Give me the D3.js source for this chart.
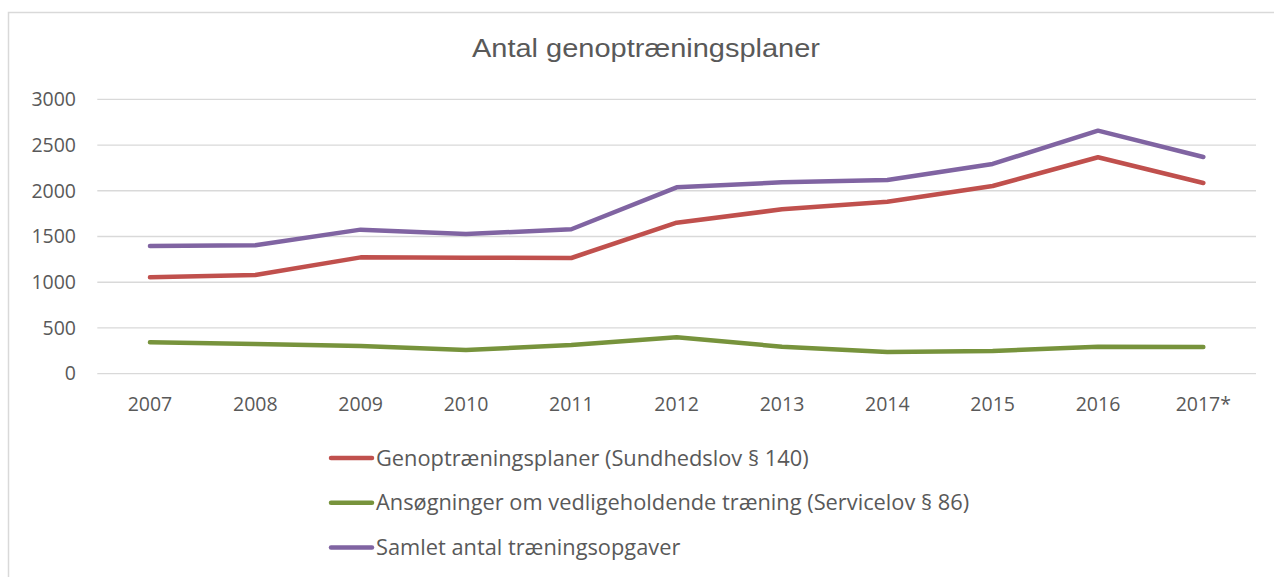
<!DOCTYPE html>
<html>
<head>
<meta charset="utf-8">
<script src="https://cdn.jsdelivr.net/npm/d3@7"></script>
<style>
  body { margin: 0; background: #fff; }
  svg { display: block; }
</style>
</head>
<body>
<script>
var w = 1274;
var h = 577;

var years = ["2007", "2008", "2009", "2010", "2011", "2012", "2013", "2014", "2015", "2016", "2017*"];
var genoptraening = [1054, 1079, 1272, 1268, 1265, 1651, 1797, 1881, 2052, 2366, 2085];
var ansoegninger = [343, 325, 303, 259, 314, 398, 295, 237, 248, 295, 292];
var samlet = [1397, 1404, 1575, 1527, 1579, 2038, 2092, 2118, 2293, 2657, 2369];
var yTicks = [0, 500, 1000, 1500, 2000, 2500, 3000];

var seriesNames = [
  "Genoptræningsplaner (Sundhedslov § 140)",
  "Ansøgninger om vedligeholdende træning (Servicelov § 86)",
  "Samlet antal træningsopgaver"
];
var seriesColors = ["#c0504d", "#77933c", "#8064a2"];
var seriesData = [genoptraening, ansoegninger, samlet];

var textColor = "#595959";
var font = "'Open Sans', sans-serif";

var svg = d3.select("body")
  .append("svg")
  .attr("width", w)
  .attr("height", h);

// chart frame
svg.append("rect")
  .attr("x", 8.5)
  .attr("y", 12.5)
  .attr("width", w + 10)
  .attr("height", h + 10)
  .attr("fill", "#fff")
  .attr("stroke", "#d9d9d9")
  .attr("stroke-width", 1.5);

// title
svg.append("text")
  .attr("x", 646)
  .attr("y", 57)
  .attr("text-anchor", "middle")
  .attr("font-family", "'Liberation Sans', Arial, sans-serif")
  .attr("font-size", 25)
  .attr("textLength", 348)
  .attr("lengthAdjust", "spacingAndGlyphs")
  .attr("fill", textColor)
  .text("Antal genoptræningsplaner");

var xScale = d3.scaleBand()
  .domain(years)
  .range([97.3, 1256]);

var yScale = d3.scaleLinear()
  .domain([0, 3000])
  .range([373.7, 99.3]);

// gridlines
svg.append("g")
  .selectAll("line")
  .data(yTicks)
  .enter()
  .append("line")
  .attr("x1", 97.3)
  .attr("x2", 1256)
  .attr("y1", function(d) { return yScale(d); })
  .attr("y2", function(d) { return yScale(d); })
  .attr("stroke", "#d9d9d9")
  .attr("stroke-width", 1.3);

// y axis labels
var yAxis = d3.axisLeft(yScale)
  .tickValues(yTicks)
  .tickFormat(d3.format("d"))
  .tickSize(0)
  .tickPadding(0);

var yG = svg.append("g")
  .attr("transform", "translate(76,0)")
  .call(yAxis);
yG.select(".domain").remove();
yG.selectAll("text")
  .attr("font-family", font)
  .attr("font-size", 19.5)
  .attr("fill", textColor);

// x axis labels
var xAxis = d3.axisBottom(xScale)
  .tickSize(0)
  .tickPadding(0);

var xG = svg.append("g")
  .attr("transform", "translate(0,397)")
  .call(xAxis);
xG.select(".domain").remove();
xG.selectAll("text")
  .attr("font-family", font)
  .attr("font-size", 19.5)
  .attr("fill", textColor);

// lines
var line = d3.line()
  .x(function(d, i) { return xScale(years[i]) + xScale.bandwidth() / 2; })
  .y(function(d) { return yScale(d); });

svg.append("g")
  .selectAll("path")
  .data(seriesData)
  .enter()
  .append("path")
  .attr("d", function(d) { return line(d); })
  .attr("fill", "none")
  .attr("stroke", function(d, i) { return seriesColors[i]; })
  .attr("stroke-width", 4.5)
  .attr("stroke-linecap", "round")
  .attr("stroke-linejoin", "round");

// legend
var legend = svg.append("g")
  .selectAll("g")
  .data(seriesNames)
  .enter()
  .append("g")
  .attr("transform", function(d, i) { return "translate(0," + (458 + i * 44.7) + ")"; });

legend.append("line")
  .attr("x1", 331)
  .attr("x2", 372)
  .attr("stroke", function(d, i) { return seriesColors[i]; })
  .attr("stroke-width", 4.5)
  .attr("stroke-linecap", "round");

legend.append("text")
  .attr("x", 376)
  .attr("dy", "0.35em")
  .attr("font-family", font)
  .attr("font-size", 21.8)
  .attr("fill", textColor)
  .text(function(d) { return d; });
</script>
</body>
</html>
